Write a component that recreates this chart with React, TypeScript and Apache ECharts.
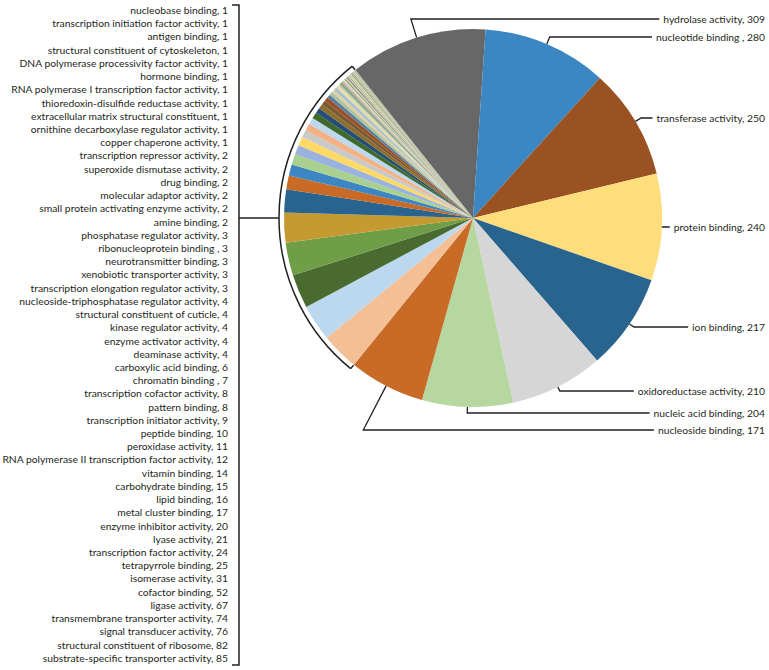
import React, { useEffect, useRef } from "react";
import * as echarts from "echarts";

// ---------- DATA ----------
const majorNames = [
  "hydrolase activity",
  "nucleotide binding ",
  "transferase activity",
  "protein binding",
  "ion binding",
  "oxidoreductase activity",
  "nucleic acid binding",
  "nucleoside binding",
];
const majorValues = [309, 280, 250, 240, 217, 210, 204, 171];

const minorNames = [
  "substrate-specific transporter activity",
  "structural constituent of ribosome",
  "signal transducer activity",
  "transmembrane transporter activity",
  "ligase activity",
  "cofactor binding",
  "isomerase activity",
  "tetrapyrrole binding",
  "transcription factor activity",
  "lyase activity",
  "enzyme inhibitor activity",
  "metal cluster binding",
  "lipid binding",
  "carbohydrate binding",
  "vitamin binding",
  "RNA polymerase II transcription factor activity",
  "peroxidase activity",
  "peptide binding",
  "transcription initiator activity",
  "pattern binding",
  "transcription cofactor activity",
  "chromatin binding ",
  "carboxylic acid binding",
  "deaminase activity",
  "enzyme activator activity",
  "kinase regulator activity",
  "structural constituent of cuticle",
  "nucleoside-triphosphatase regulator activity",
  "transcription elongation regulator activity",
  "xenobiotic transporter activity",
  "neurotransmitter binding",
  "ribonucleoprotein binding ",
  "phosphatase regulator activity",
  "amine binding",
  "small protein activating enzyme activity",
  "molecular adaptor activity",
  "drug binding",
  "superoxide dismutase activity",
  "transcription repressor activity",
  "copper chaperone activity",
  "ornithine decarboxylase regulator activity",
  "extracellular matrix structural constituent",
  "thioredoxin-disulfide reductase activity",
  "RNA polymerase I transcription factor activity",
  "hormone binding",
  "DNA polymerase processivity factor activity",
  "structural constituent of cytoskeleton",
  "antigen binding",
  "transcription initiation factor activity",
  "nucleobase binding",
];
const minorValues = [
  85, 82, 76, 74, 67, 52, 31, 25, 24, 21, 20, 17, 16, 15, 14, 12, 11, 10, 9, 8, 8, 7, 6,
  4, 4, 4, 4, 4, 3, 3, 3, 3, 3, 2, 2, 2, 2, 2, 2, 1, 1, 1, 1, 1, 1, 1, 1, 1, 1, 1,
];

// ---------- STYLE ----------
const sliceColors = [
  "#676767", "#3A87C4", "#9A5223", "#FFDD7B", "#29648F", "#D6D6D6", "#B7D7A0", "#C86B27",
  "#F4BF95", "#BCD8EE", "#4A6B30", "#6F9D48", "#C59A31", "#29638F", "#C96A27", "#3B86C3",
  "#A9D08E", "#9AB2DE", "#FFD966", "#C9C9C9", "#F4B183", "#BDD7EE", "#3E6A2C", "#244E78",
  "#8D6E2C", "#7A5A33", "#9B4F23", "#5A7E9F", "#A8C4A0", "#E4CDA0", "#9DBFD6", "#D4D4AE",
  "#F2D9A6", "#B3CFA3", "#7C9A8D", "#C1A97A", "#A7C6D9", "#E9D9B2", "#8CA379", "#F1C9A5",
  "#6E8E8F", "#C8D5B0", "#B39A6A", "#D2E0C0", "#9FB5A6", "#E3D4A0", "#7F9D6F", "#A6A47A",
  "#9C9A6E", "#8FA07A", "#D8C89A", "#A8C490", "#6B8B88", "#E6D3A8", "#A0C0D6", "#B8A872",
  "#8C9A70", "#CFC39A",
];

const W = 769;
const H = 670;
const CX = 473;
const CY = 218;
const R = 189;
const START_CLOCK = -38.5; // degrees clockwise from 12 o'clock where first slice starts
const RIGHT_EDGE = 765;
const RIGHT_LABEL_Y = [19, 37, 118, 227, 327, 391, 413, 430];
const LIST_RIGHT = 228;
const LIST_TOP = 10;
const LIST_STEP = 13.22;
const ARC_R = 194;
const BRACKET_X = 239;
const INK = "#231F20";
const FONT = "Lato, 'Open Sans', sans-serif";
const FONT_SIZE = 10.3;

const allNames = [...majorNames, ...minorNames];
const allValues = [...majorValues, ...minorValues];
const total = allValues.reduce((a, b) => a + b, 0);
const majorSum = majorValues.reduce((a, b) => a + b, 0);

function clockAngleAt(cum: number) {
  return START_CLOCK + (cum / total) * 360;
}
function pointAt(clockDeg: number, r: number) {
  const t = (clockDeg * Math.PI) / 180;
  return [CX + r * Math.sin(t), CY - r * Math.cos(t)];
}

export default function App() {
  const ref = useRef<HTMLDivElement>(null);

  useEffect(() => {
    if (!ref.current) return;
    const chart = echarts.init(ref.current, undefined, { renderer: "svg" });

    const cums: number[] = [];
    let acc = 0;
    for (const v of allValues) {
      cums.push(acc);
      acc += v;
    }

    const data = allNames.map((n, i) => ({
      name: n,
      value: allValues[i],
      itemStyle: { color: sliceColors[i % sliceColors.length] },
      labelLine: { show: i < majorNames.length },
    }));

    const arcStart = clockAngleAt(majorSum);
    const arcEnd = clockAngleAt(total);
    const toScreenRad = (d: number) => ((d - 90) * Math.PI) / 180;
    const a0 = pointAt(arcStart, ARC_R);
    const a0i = pointAt(arcStart, R + 0.5);
    const a1 = pointAt(arcEnd, ARC_R);
    const a1i = pointAt(arcEnd, R + 0.5);

    const lineStyle = { stroke: INK, lineWidth: 1.5, fill: null as any };

    chart.setOption({
      animation: false,
      backgroundColor: "#ffffff",
      series: [
        {
          type: "pie",
          center: [CX, CY],
          radius: [0, R],
          startAngle: 90 - START_CLOCK,
          clockwise: true,
          avoidLabelOverlap: false,
          silent: true,
          data,
          itemStyle: { borderWidth: 0 },
          label: {
            show: true,
            position: "outside",
            formatter: "{b}, {c}",
            fontFamily: FONT,
            fontSize: FONT_SIZE,
            color: INK,
            overflow: "none",
          },
          labelLine: {
            show: true,
            length: 5,
            length2: 5,
            lineStyle: { color: INK, width: 1.3 },
          },
          labelLayout: (p: any) => {
            const i = p.dataIndex;
            if (i < majorNames.length) {
              const mid = clockAngleAt(cums[i] + allValues[i] / 2);
              const [ax, ay] = pointAt(mid, R);
              const t = (mid * Math.PI) / 180;
              const dx = Math.sin(t);
              const dy = -Math.cos(t);
              const ly = RIGHT_LABEL_Y[i];
              let bx = ax;
              if (Math.abs(dy) > 0.1) {
                const k = (ly - ay) / dy;
                if (k > 0) bx = ax + dx * k;
              }
              const tw = p.labelRect ? p.labelRect.width : 100;
              const ex = RIGHT_EDGE - tw - 4;
              return {
                x: RIGHT_EDGE,
                y: ly,
                align: "right",
                verticalAlign: "middle",
                labelLinePoints: [
                  [ax, ay],
                  [bx, ly],
                  [ex, ly],
                ],
              };
            }
            const row = allNames.length - 1 - i;
            return {
              x: LIST_RIGHT,
              y: LIST_TOP + row * LIST_STEP,
              align: "right",
              verticalAlign: "middle",
            };
          },
        },
      ],
      graphic: [
        {
          type: "polyline",
          silent: true,
          shape: {
            points: [
              [BRACKET_X - 7, 5],
              [BRACKET_X, 5],
              [BRACKET_X, 665],
              [BRACKET_X - 7, 665],
            ],
          },
          style: lineStyle,
        },
        {
          type: "line",
          silent: true,
          shape: { x1: BRACKET_X, y1: CY, x2: CX - ARC_R, y2: CY },
          style: lineStyle,
        },
        {
          type: "arc",
          silent: true,
          shape: {
            cx: CX,
            cy: CY,
            r: ARC_R,
            startAngle: toScreenRad(arcStart),
            endAngle: toScreenRad(arcEnd),
            clockwise: true,
          },
          style: lineStyle,
        },
        {
          type: "line",
          silent: true,
          shape: { x1: a0[0], y1: a0[1], x2: a0i[0], y2: a0i[1] },
          style: lineStyle,
        },
        {
          type: "line",
          silent: true,
          shape: { x1: a1[0], y1: a1[1], x2: a1i[0], y2: a1i[1] },
          style: lineStyle,
        },
      ],
    });

    return () => chart.dispose();
  }, []);

  return (
    <div
      ref={ref}
      style={{ position: "fixed", left: 0, top: 0, width: W, height: H, background: "#fff" }}
    />
  );
}
